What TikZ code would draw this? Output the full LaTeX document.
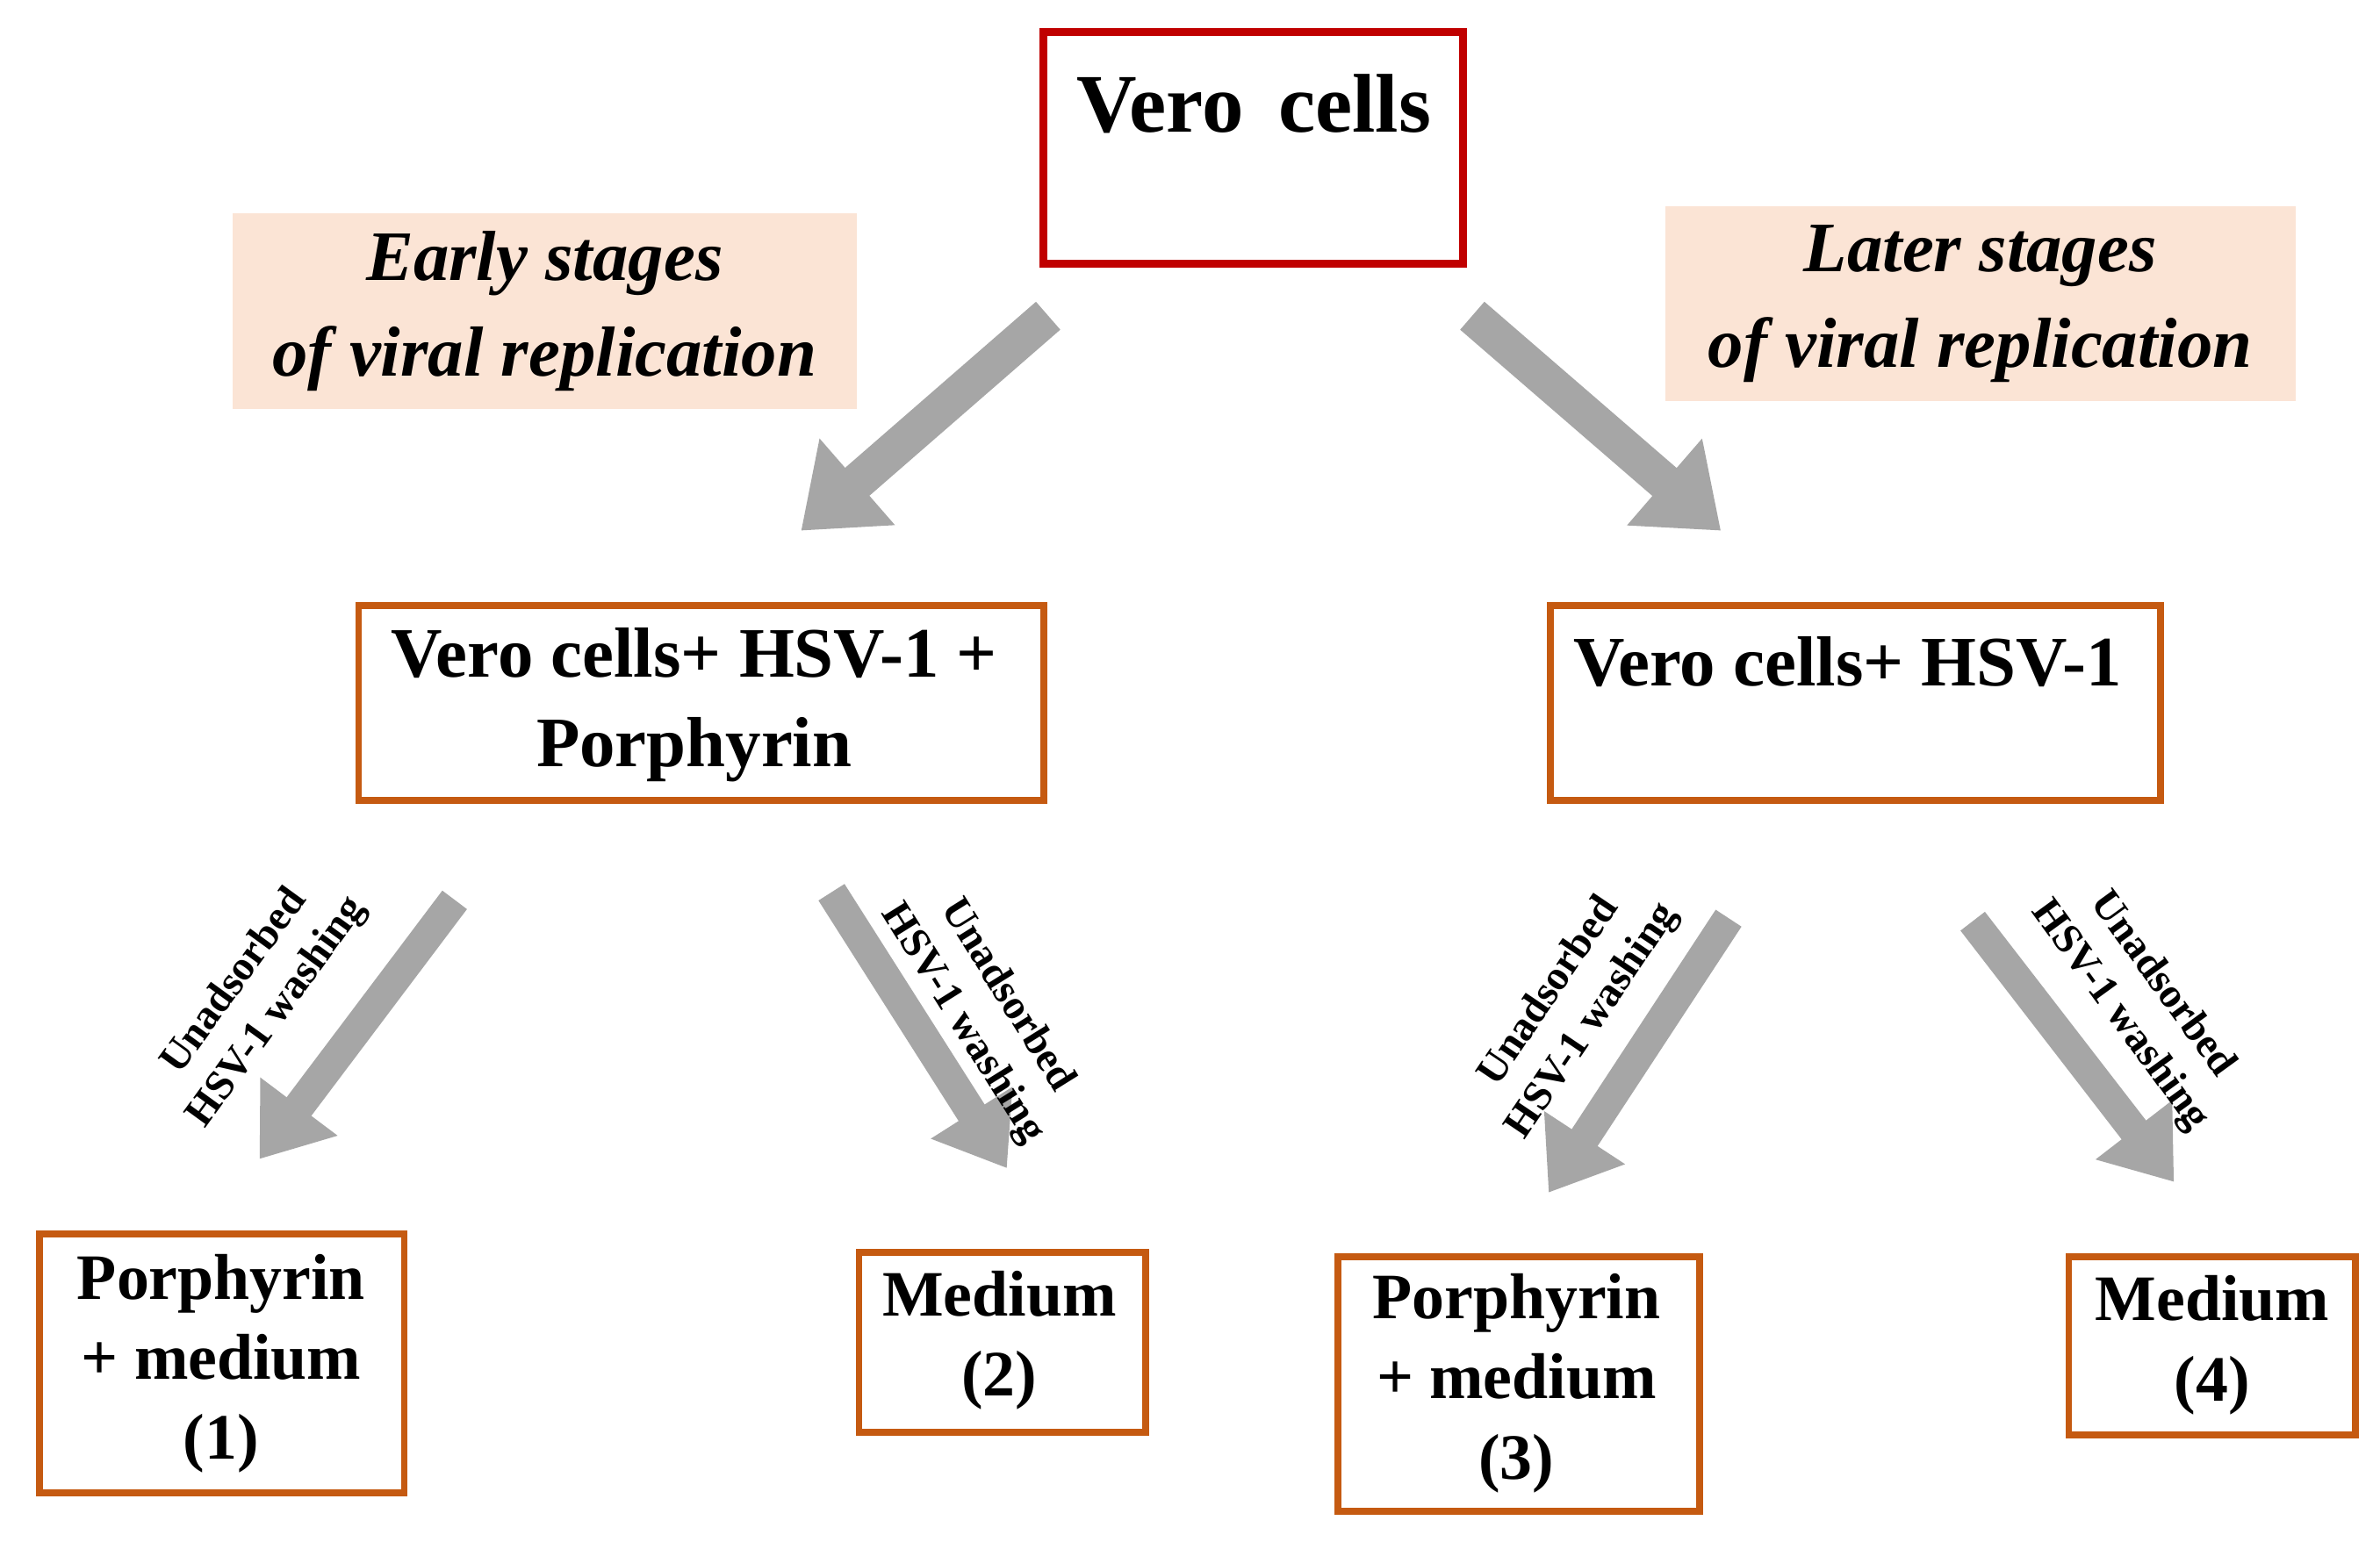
\documentclass[tikz,border=0pt]{standalone}
\usepackage{fontspec}
\setmainfont{Liberation Serif}
\usetikzlibrary{arrows.meta}
\definecolor{boxred}{RGB}{192,0,0}
\definecolor{boxorange}{RGB}{197,90,17}
\definecolor{peach}{RGB}{251,228,213}
\definecolor{arrowgray}{RGB}{166,166,166}
\tikzset{
  stepbox/.style={draw=boxorange, line width=2.2pt, inner sep=0pt, outer sep=0pt, anchor=north west},
  steptext/.style={align=center, font=\fontsize{21}{26}\selectfont\bfseries},
  stagebox/.style={fill=peach, align=center, font=\fontsize{23}{31}\selectfont\bfseries\itshape},
  bigarrow/.style={draw=arrowgray, line width=12pt, -{Triangle[width=1.25cm,length=0.85cm]}},
  smallarrow/.style={draw=arrowgray, line width=10pt, -{Triangle[width=1.05cm,length=0.75cm]}},
  washlabel/.style={align=center, font=\fontsize{13.5}{17}\selectfont\bfseries}
}
\begin{document}
\begin{tikzpicture}[x=0.01738cm, y=-0.01738cm]
  \useasboundingbox (0,0) rectangle (1560,1011);
  % top
  \node[draw=boxred, line width=2.5pt, minimum width=275*0.01738cm, minimum height=152*0.01738cm,
        anchor=north west, inner sep=0pt, outer sep=0pt] (vero) at (684,21) {};
  \node[font=\fontsize{27}{30}\selectfont\bfseries] (verotxt) at (822,68) {Vero\, cells};
  % stages
  \node[stagebox, minimum width=409*0.01738cm, minimum height=128*0.01738cm] (early) at (357,204)
    {Early stages\\ of viral replication};
  \node[stagebox, minimum width=413*0.01738cm, minimum height=128*0.01738cm] (later) at (1298,199)
    {Later stages\\ of viral replication};
  % second row
  \node[stepbox, minimum width=449*0.01738cm, minimum height=128*0.01738cm] (mixA) at (235,397) {};
  \node[steptext, font=\fontsize{23}{29}\selectfont\bfseries] at (455,462) {Vero cells+ HSV-1 +\\ Porphyrin};
  \node[stepbox, minimum width=400*0.01738cm, minimum height=128*0.01738cm] (mixB) at (1016,397) {};
  \node[steptext, font=\fontsize{23}{29}\selectfont\bfseries] at (1211,434) {Vero cells+ HSV-1};
  % big arrows
  \coordinate (s1) at (687,207);
  \coordinate (e1) at (525,348);
  \coordinate (s2) at (965,207);
  \coordinate (e2) at (1128,348);
  \draw[bigarrow] (s1) -- (e1);
  \draw[bigarrow] (s2) -- (e2);
  % small arrows
  \coordinate (a1s) at (298,590); \coordinate (a1e) at (170,760);
  \coordinate (a2s) at (545,585); \coordinate (a2e) at (660,766);
  \coordinate (a3s) at (1133,602); \coordinate (a3e) at (1015,782);
  \coordinate (a4s) at (1293,604); \coordinate (a4e) at (1425,775);
  \draw[smallarrow] (a1s) -- (a1e);
  \draw[smallarrow] (a2s) -- (a2e);
  \draw[smallarrow] (a3s) -- (a3e);
  \draw[smallarrow] (a4s) -- (a4e);
  \node[washlabel, rotate=54] (w1) at (168,654) {Unadsorbed\\ HSV-1 washing};
  \node[washlabel, rotate=-58] (w2) at (645,662) {Unadsorbed\\ HSV-1 washing};
  \node[washlabel, rotate=56] (w3) at (1030,660) {Unadsorbed\\ HSV-1 washing};
  \node[washlabel, rotate=-54] (w4) at (1403,656) {Unadsorbed\\ HSV-1 washing};
  % bottom
  \node[stepbox, minimum width=239*0.01738cm, minimum height=170*0.01738cm] (m1) at (26,809) {};
  \node[steptext] at (145,894) {Porphyrin\\ + medium\\ (1)};
  \node[stepbox, minimum width=188*0.01738cm, minimum height=118*0.01738cm] (m2) at (563,821) {};
  \node[steptext] at (655,879) {Medium\\ (2)};
  \node[stepbox, minimum width=237*0.01738cm, minimum height=167*0.01738cm] (m3) at (877,824) {};
  \node[steptext] at (994,907) {Porphyrin\\ + medium\\ (3)};
  \node[stepbox, minimum width=188*0.01738cm, minimum height=117*0.01738cm] (m4) at (1356,824) {};
  \node[steptext] at (1450,882) {Medium\\ (4)};
\end{tikzpicture}
\end{document}
